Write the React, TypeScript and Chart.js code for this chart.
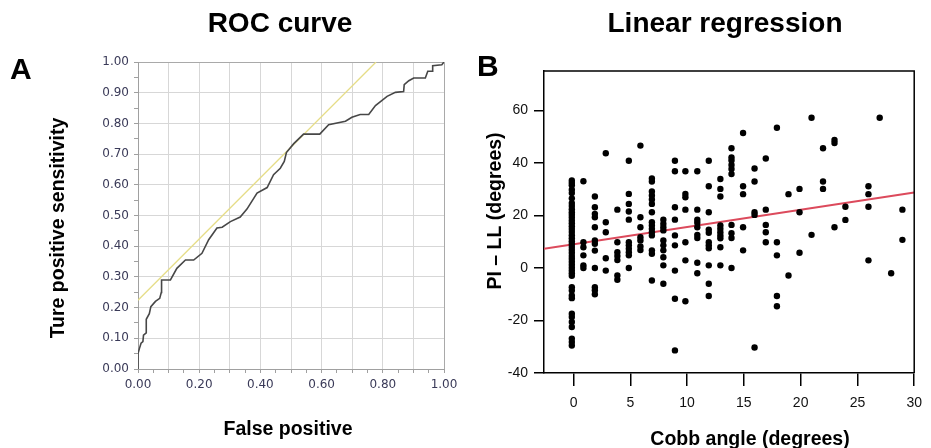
import React, { useEffect, useRef } from 'react';
import { Chart, registerables } from 'chart.js';

Chart.register(...registerables);

// ---------- Panel A: ROC curve ----------
const ROC_FPR = [
  0, 0, 0.005, 0.01, 0.016, 0.018, 0.027, 0.027, 0.037, 0.042,
  0.057, 0.071, 0.076, 0.077, 0.106, 0.127, 0.155, 0.182, 0.209, 0.231,
  0.258, 0.275, 0.302, 0.334, 0.356, 0.389, 0.422, 0.443, 0.465, 0.478,
  0.485, 0.509, 0.541, 0.594, 0.623, 0.678, 0.699, 0.726, 0.754, 0.776,
  0.814, 0.841, 0.868, 0.870, 0.885, 0.901, 0.939, 0.947, 0.961, 0.963,
  0.993, 1,
];
const ROC_TPR = [
  0, 0.05, 0.068, 0.084, 0.089, 0.11, 0.118, 0.162, 0.18, 0.203,
  0.22, 0.23, 0.249, 0.29, 0.29, 0.328, 0.355, 0.355, 0.377, 0.421,
  0.459, 0.462, 0.48, 0.495, 0.521, 0.573, 0.591, 0.633, 0.654, 0.676,
  0.705, 0.734, 0.765, 0.765, 0.796, 0.807, 0.82, 0.829, 0.829, 0.858,
  0.888, 0.901, 0.904, 0.926, 0.939, 0.948, 0.948, 0.97, 0.97, 0.988,
  0.991, 1,
];
const TANGENT_X = [0, 0.778];
const TANGENT_Y = [0.224, 1];
const ROC_TICKS = [
  0, 0.05, 0.1, 0.15, 0.2, 0.25, 0.3, 0.35, 0.4, 0.45, 0.5,
  0.55, 0.6, 0.65, 0.7, 0.75, 0.8, 0.85, 0.9, 0.95, 1,
];
const ROC_X_LABELS = [0, 0.2, 0.4, 0.6, 0.8, 1];
const ROC_Y_LABELS = [0, 0.1, 0.2, 0.3, 0.4, 0.5, 0.6, 0.7, 0.8, 0.9, 1];

// ---------- Panel B: linear regression ----------
const COBB_X = [
  -0.15, 0.87, 1.88, 2.84, 3.86, 4.87, 5.89, 6.9, 7.91, 8.93,
  9.85, 10.9, 11.91, 12.93, 13.91, 14.93, 15.94, 16.93, 17.91, 18.93,
  19.9, 20.96, 21.97, 22.98, 23.94, 25.97, 26.96, 27.97, 28.96,
];
const PI_LL = [
  [33.3, 32.4, 31.5, 29.8, 28.5, 26.5, 24.7, 23.6, 22.4, 21.2, 20.3, 19.2, 18.1, 17.0, 15.9, 14.8,
    13.7, 12.5, 11.3, 10.2, 9.1, 8.0, 6.9, 5.8, 4.6, 3.5, 2.4, 1.2, 0.1, -1.0, -2.0, -3.0,
    -7.3, -8.6, -10.5, -11.5, -17.4, -18.7, -20.6, -22.5, -26.9, -28.2, -29.5],
  [33.0, 9.8, 7.9, 4.8, 1.0, 0],
  [27.2, 23.1, 20.6, 19.3, 15.5, 10.5, 9.2, 6.6, 0, -7.3, -8.5, -10],
  [43.7, 17.4, 13.6, 3.7, -1],
  [22.2, 9.8, 6.0, 4.6, 3.0, -2.9, -4.5],
  [40.8, 28.2, 24.4, 21.5, 18.4, 9.8, 8.6, 7.3, 6.0, 4.8, 0],
  [46.6, 19.3, 15.5, 11.7, 10.5, 8.2, 6.8],
  [34.1, 32.9, 29.1, 27.6, 26.1, 24.4, 21.2, 17.4, 16.2, 14.9, 13.6, 12.4, 6.7, 5.4, -4.8],
  [18.4, 16.8, 15.5, 14.3, 10.5, 8.6, 6.7, 4.1, 1.0, -6.0],
  [40.8, 36.8, 23.1, 18.4, 12.4, 8.6, -1, -11.7, -31.4],
  [36.8, 28.2, 26.9, 22.2, 9.8, 2.9, -12.7],
  [36.8, 22.2, 18.4, 17.2, 15.5, 12.6, 11.4, 2.0, -2.0],
  [40.8, 31.1, 21.2, 14.6, 13.4, 9.8, 8.6, 7.5, 1.0, -6.0, -10.7],
  [33.9, 30.1, 27.2, 16.2, 14.9, 13.6, 12.4, 11.3, 7.9, 1.0],
  [45.6, 42.1, 40.9, 39.2, 37.7, 35.8, 16.4, 13.2, 11.4, 0],
  [51.4, 31.1, 28.1, 15.5, 6.7],
  [37.9, 32.9, 21.2, 20.2, -30.3],
  [41.7, 22.2, 16.4, 13.6, 9.8],
  [53.4, 9.8, 4.8, -10.7, -14.6],
  [28.1, -2.9],
  [30.1, 21.2, 5.8],
  [57.2, 12.6],
  [45.6, 32.9, 30.1],
  [48.7, 47.6, 15.5],
  [23.3, 18.3],
  [31.1, 28.1, 23.3, 2.9],
  [57.2],
  [-2.0],
  [22.2, 10.7],
];
const REG_X = [-2.6, 30];
const REG_Y = [7.3, 28.7];
const COBB_TICKS = [0, 5, 10, 15, 20, 25, 30];
const PI_LL_TICKS = [-40, -20, 0, 20, 40, 60];

const SANS = '"Liberation Sans", Arial, Helvetica, sans-serif';

type TextItem = { text: string; x: number; y: number; size: number; align?: CanvasTextAlign; rotate?: boolean };

function textPlugin(id: string, items: TextItem[], box?: boolean) {
  return {
    id,
    afterDraw(chart: any) {
      const ctx: CanvasRenderingContext2D = chart.ctx;
      ctx.save();
      if (box) {
        const a = chart.chartArea;
        ctx.strokeStyle = '#000';
        ctx.lineWidth = 1.5;
        ctx.beginPath();
        ctx.moveTo(a.left, a.top);
        ctx.lineTo(a.right, a.top);
        ctx.lineTo(a.right, a.bottom);
        ctx.stroke();
      }
      ctx.fillStyle = '#000';
      for (const it of items) {
        ctx.font = `bold ${it.size}px ${SANS}`;
        ctx.textAlign = it.align || 'center';
        ctx.textBaseline = 'alphabetic';
        if (it.rotate) {
          ctx.save();
          ctx.translate(it.x, it.y);
          ctx.rotate(-Math.PI / 2);
          ctx.fillText(it.text, 0, 0);
          ctx.restore();
        } else {
          ctx.fillText(it.text, it.x, it.y);
        }
      }
      ctx.restore();
    },
  };
}

const near = (list: number[], v: number) => list.some((t) => Math.abs(t - v) < 1e-6);

export default function App() {
  const leftRef = useRef<HTMLCanvasElement>(null);
  const rightRef = useRef<HTMLCanvasElement>(null);

  useEffect(() => {
    Chart.defaults.font.family = SANS;

    const rocGrid = {
      color: (c: any) => {
        const v = c.tick ? c.tick.value : 0;
        if (Math.abs(v - 1) < 1e-6) return '#a9a9a9';
        return near(ROC_Y_LABELS, v) ? '#d7d7d7' : 'rgba(0,0,0,0)';
      },
      tickColor: '#a0a0a0',
      tickLength: 4,
      lineWidth: 1,
    };
    const rocFont = { family: '"DejaVu Sans", Verdana, sans-serif', size: 12 };

    const left = new Chart(leftRef.current as HTMLCanvasElement, {
      type: 'scatter',
      data: {
        datasets: [
          {
            data: ROC_FPR.map((x, i) => ({ x, y: ROC_TPR[i] })),
            showLine: true,
            borderColor: '#474747',
            borderWidth: 1.6,
            pointRadius: 0,
            tension: 0,
          },
          {
            data: TANGENT_X.map((x, i) => ({ x, y: TANGENT_Y[i] })),
            showLine: true,
            borderColor: '#e6dd88',
            borderWidth: 1.3,
            pointRadius: 0,
          },
        ],
      },
      options: {
        animation: false,
        responsive: false,
        devicePixelRatio: 1,
        layout: { padding: { top: 62, right: 22, left: 0, bottom: 0 } },
        plugins: { legend: { display: false }, tooltip: { enabled: false }, title: { display: false } },
        scales: {
          x: {
            type: 'linear',
            min: 0,
            max: 1,
            afterBuildTicks: (s: any) => { s.ticks = ROC_TICKS.map((value) => ({ value })); },
            afterFit: (s: any) => { s.height = 79; },
            ticks: {
              autoSkip: false,
              maxRotation: 0,
              font: rocFont,
              color: '#3a3a58',
              padding: 5,
              callback: (v: any) => (near(ROC_X_LABELS, Number(v)) ? Number(v).toFixed(2) : ''),
            },
            grid: rocGrid,
            border: { color: '#a0a0a0', width: 1 },
          },
          y: {
            type: 'linear',
            min: 0,
            max: 1,
            afterBuildTicks: (s: any) => { s.ticks = ROC_TICKS.map((value) => ({ value })); },
            afterFit: (s: any) => { s.width = 138; },
            ticks: {
              autoSkip: false,
              font: rocFont,
              color: '#3a3a58',
              padding: 5,
              callback: (v: any) => (near(ROC_Y_LABELS, Number(v)) ? Number(v).toFixed(2) : ''),
            },
            grid: rocGrid,
            border: { color: '#a0a0a0', width: 1 },
          },
        },
      } as any,
      plugins: [
        textPlugin('leftText', [
          { text: 'ROC curve', x: 280, y: 32, size: 28 },
          { text: 'A', x: 10, y: 79, size: 30, align: 'left' },
          { text: 'False positive', x: 288, y: 435, size: 19.5 },
          { text: 'Ture positive sensitivity', x: 64, y: 228, size: 19.5, rotate: true },
        ]),
      ],
    });

    const scatterData: { x: number; y: number }[] = [];
    COBB_X.forEach((x, i) => PI_LL[i].forEach((y) => scatterData.push({ x, y })));

    const right = new Chart(rightRef.current as HTMLCanvasElement, {
      type: 'scatter',
      data: {
        datasets: [
          {
            data: scatterData,
            backgroundColor: '#000',
            borderWidth: 0,
            pointRadius: 3.2,
          },
          {
            data: REG_X.map((x, i) => ({ x, y: REG_Y[i] })),
            showLine: true,
            borderColor: '#dc4a5c',
            borderWidth: 2,
            pointRadius: 0,
          },
        ],
      },
      options: {
        animation: false,
        responsive: false,
        devicePixelRatio: 1,
        layout: { padding: { top: 71, right: 12, left: 0, bottom: 0 } },
        plugins: { legend: { display: false }, tooltip: { enabled: false }, title: { display: false } },
        scales: {
          x: {
            type: 'linear',
            min: -2.6,
            max: 30,
            afterBuildTicks: (s: any) => { s.ticks = COBB_TICKS.map((value) => ({ value })); },
            afterFit: (s: any) => { s.height = 75; },
            ticks: { autoSkip: false, maxRotation: 0, font: { size: 14 }, color: '#111', padding: 9 },
            grid: { drawOnChartArea: false, tickLength: 13, tickColor: '#000', lineWidth: 1.5, tickWidth: 1.5 },
            border: { color: '#000', width: 1.5 },
          },
          y: {
            type: 'linear',
            min: -40,
            max: 75,
            afterBuildTicks: (s: any) => { s.ticks = PI_LL_TICKS.map((value) => ({ value })); },
            afterFit: (s: any) => { s.width = 78; },
            ticks: { autoSkip: false, font: { size: 14 }, color: '#111', padding: 6 },
            grid: { drawOnChartArea: false, tickLength: 10, tickColor: '#000', lineWidth: 1.5, tickWidth: 1.5 },
            border: { color: '#000', width: 1.5 },
          },
        },
      } as any,
      plugins: [
        textPlugin('rightText', [
          { text: 'Linear regression', x: 259, y: 32, size: 28 },
          { text: 'B', x: 11, y: 76, size: 30, align: 'left' },
          { text: 'Cobb angle (degrees)', x: 284, y: 445, size: 19.5 },
          { text: 'PI – LL (degrees)', x: 35, y: 211, size: 19.5, rotate: true },
        ], true),
      ],
    });

    return () => {
      left.destroy();
      right.destroy();
    };
  }, []);

  return (
    <div style={{ position: 'absolute', left: 0, top: 0, width: 931, height: 448, background: '#fff' }}>
      <canvas ref={leftRef} width={466} height={448} style={{ position: 'absolute', left: 0, top: 0, width: 466, height: 448 }} />
      <canvas ref={rightRef} width={465} height={448} style={{ position: 'absolute', left: 466, top: 0, width: 465, height: 448 }} />
    </div>
  );
}
